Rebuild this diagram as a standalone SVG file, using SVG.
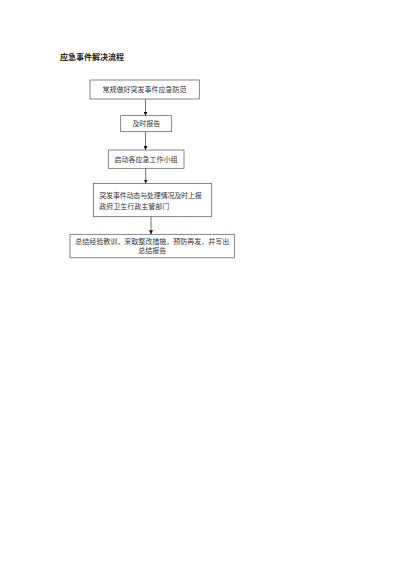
<svg xmlns="http://www.w3.org/2000/svg" width="400" height="566" viewBox="0 0 400 566">
<style>
.box{fill:#fff;stroke:#555;stroke-width:0.7}
.t{font-family:"Liberation Sans","Noto Sans CJK SC",sans-serif;font-size:7px;fill:#333}
.title{font-family:"Liberation Serif","Noto Sans CJK SC",serif;font-size:8px;font-weight:bold;fill:#222}
.c{stroke:#333;stroke-width:0.7;fill:none;marker-end:url(#ah)}
</style>
<defs>
<marker id="ah" viewBox="0 0 6 6" refX="6" refY="3" markerWidth="4" markerHeight="4" markerUnits="userSpaceOnUse" orient="auto">
<path d="M0,0 L6,3 L0,6 z" fill="#111"/>
</marker>
</defs>
<rect width="400" height="566" fill="#fff"/>
<text class="title" x="60" y="60.3">应急事件解决流程</text>
<g id="connectors">
<line class="c" x1="145.5" y1="99" x2="145.5" y2="115.7"/>
<line class="c" x1="145.5" y1="131.7" x2="145.5" y2="150"/>
<line class="c" x1="145.7" y1="168.3" x2="145.7" y2="183.5"/>
<line class="c" x1="151" y1="216.7" x2="151" y2="234.3"/>
</g>
<g id="n1">
<rect class="box" x="90" y="80" width="109.3" height="19"/>
<text class="t" x="144.6" y="92" text-anchor="middle">常规做好突发事件应急防范</text>
</g>
<g id="n2">
<rect class="box" x="120.7" y="115.7" width="51" height="16"/>
<text class="t" x="146.2" y="126.2" text-anchor="middle">及时报告</text>
</g>
<g id="n3">
<rect class="box" x="108.3" y="150" width="75.7" height="18.3"/>
<text class="t" x="146.1" y="161.6" text-anchor="middle">启动各应急工作小组</text>
</g>
<g id="n4">
<rect class="box" x="93.3" y="183.5" width="118.4" height="33.2"/>
<text class="t" x="99.3" y="197.5" textLength="102.4">突发事件动态与处理情况及时上报</text>
<text class="t" x="99.3" y="208.5">政府卫生行政主管部门</text>
</g>
<g id="n5">
<rect class="box" x="70" y="234.3" width="164.3" height="23.5"/>
<text class="t" x="152.2" y="244.2" text-anchor="middle">总结经验教训，采取整改措施，预防再发，并写出</text>
<text class="t" x="152.2" y="253.2" text-anchor="middle">总结报告</text>
</g>
</svg>
